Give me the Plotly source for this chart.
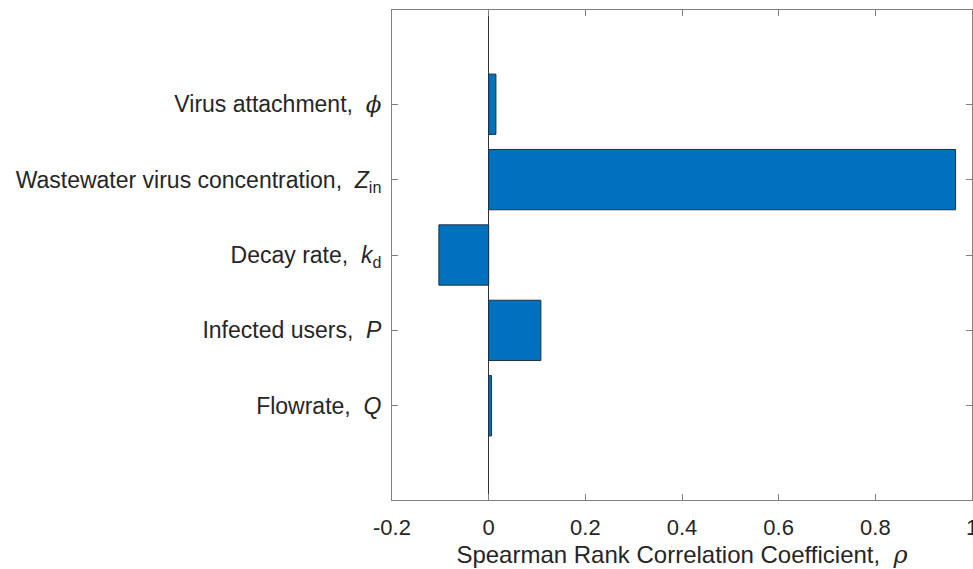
import plotly.graph_objects as go

# Data
param_labels = [
    "Flowrate,  <i>Q</i>",
    "Infected users,  <i>P</i>",
    "Decay rate,  <i>k</i><sub>d</sub>",
    "Wastewater virus concentration,  <i>Z</i><sub>in</sub>",
    "Virus attachment,  <span style='font-family:DejaVu Serif'><i>ϕ</i></span>",
]
param_positions = [1, 2, 3, 4, 5]
spearman_rho = [0.006, 0.108, -0.103, 0.966, 0.015]
x_tick_vals = [-0.2, 0, 0.2, 0.4, 0.6, 0.8, 1]
x_tick_text = ["-0.2", "0", "0.2", "0.4", "0.6", "0.8", "1"]

fig = go.Figure()
fig.add_trace(go.Bar(
    x=spearman_rho,
    y=param_positions,
    orientation="h",
    width=0.8,
    marker=dict(color="#0072BD", line=dict(color="#1c2f42", width=1)),
    showlegend=False,
))

axis_color = "#808080"
fig.update_layout(
    width=973, height=569,
    margin=dict(l=392, r=1, t=10, b=69),
    paper_bgcolor="white",
    plot_bgcolor="white",
    font=dict(family="Liberation Sans, Arial, sans-serif", size=23, color="#262626"),
    xaxis=dict(
        range=[-0.2, 1.0],
        automargin=False,
        tickvals=x_tick_vals,
        ticktext=x_tick_text,
        ticklabeloverflow="allow",
        showgrid=False,
        zeroline=True,
        zerolinecolor="#333333",
        zerolinewidth=1,
        showline=True,
        linecolor=axis_color,
        linewidth=1,
        mirror="ticks",
        ticks="inside",
        ticklen=6,
        tickcolor=axis_color,
        tickfont=dict(size=22, color="#262626"),
        ticklabelstandoff=8,
        title=dict(
            text="Spearman Rank Correlation Coefficient,  <span style='font-family:DejaVu Serif'><i>ρ</i></span>",
            font=dict(size=24, color="#262626"),
            standoff=6,
        ),
    ),
    yaxis=dict(
        range=[-0.25, 6.25],
        automargin=False,
        tickvals=param_positions,
        ticktext=param_labels,
        showgrid=False,
        zeroline=False,
        showline=True,
        linecolor=axis_color,
        linewidth=1,
        mirror="ticks",
        ticks="inside",
        ticklen=6,
        tickcolor=axis_color,
        tickfont=dict(size=23, color="#262626"),
        ticklabelstandoff=5,
    ),
)

# remove the default 8px body margin so the figure fills the window exactly
fig.write_html(
    "out.html",
    config={"displayModeBar": False},
    post_script="document.body.style.margin='0';document.body.style.overflow='hidden';",
)
